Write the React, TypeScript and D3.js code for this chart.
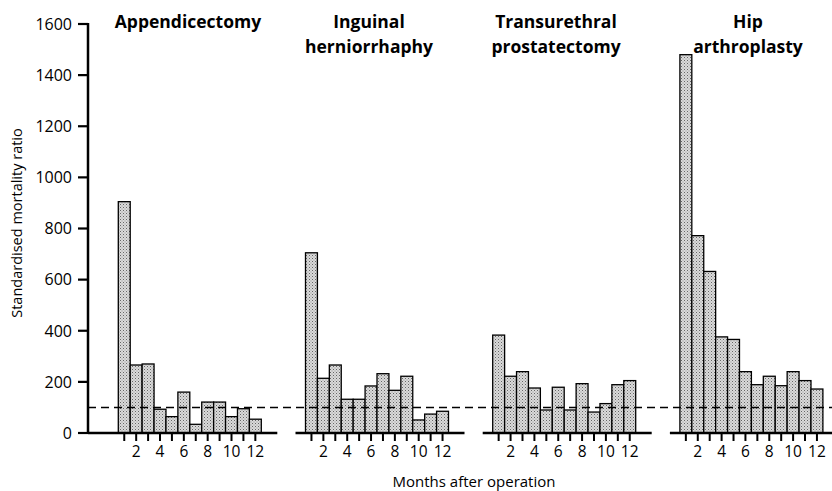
import React from "react";
import * as d3 from "d3";

const months = [1, 2, 3, 4, 5, 6, 7, 8, 9, 10, 11, 12];
const monthLabels = ["", "2", "", "4", "", "6", "", "8", "", "10", "", "12"];
const yTicks = [0, 200, 400, 600, 800, 1000, 1200, 1400, 1600];

const procedures = [
  ["Appendicectomy"],
  ["Inguinal", "herniorrhaphy"],
  ["Transurethral", "prostatectomy"],
  ["Hip", "arthroplasty"],
];
const appendicectomy = [905, 266, 270, 93, 64, 160, 34, 121, 121, 64, 95, 54];
const inguinal = [705, 214, 266, 132, 132, 184, 232, 167, 222, 51, 74, 85];
const transurethral = [383, 222, 240, 176, 90, 179, 90, 193, 82, 115, 189, 205];
const hip = [1480, 772, 632, 376, 366, 240, 189, 222, 185, 240, 205, 172];
const series = [appendicectomy, inguinal, transurethral, hip];
const reference = 100;

const titleX = [188, 369, 556, 748];

export default function App() {
  const W = 832, H = 491;
  const y = d3.scaleLinear().domain([0, 1600]).range([433, 24]);
  const axisX = 88;
  const panelStart = (i: number) => 118.3 + i * 187.2;
  const barsW = 143;
  const font = "'Open Sans', Lato, sans-serif";

  return (
    <svg width={W} height={H} style={{ position: "absolute", left: 0, top: 0 }}>
      <defs>
        <pattern id="stip" width="3" height="3" patternUnits="userSpaceOnUse">
          <rect width="3" height="3" fill="#dadada" />
          <rect x="0" y="0" width="1" height="1" fill="#666" />
          <rect x="1.5" y="1.5" width="1" height="1" fill="#929292" />
        </pattern>
      </defs>
      <rect width={W} height={H} fill="#fff" />
      {/* y axis */}
      <line x1={axisX} x2={axisX} y1={y(0)} y2={y(1600) - 1} stroke="#000" strokeWidth={2.5} />
      {yTicks.map((t) => (
        <g key={t}>
          <line x1={axisX - 10} x2={axisX} y1={y(t)} y2={y(t)} stroke="#000" strokeWidth={2.2} />
          <text x={72} y={y(t)} dy="0.36em" textAnchor="end" fontFamily={font} fontSize={16} fill="#000">
            {t}
          </text>
        </g>
      ))}
      <text
        transform={`translate(22,${223}) rotate(-90)`}
        textAnchor="middle"
        fontFamily={font}
        fontSize={14.5}
        fill="#000"
      >
        Standardised mortality ratio
      </text>
      {series.map((vals, i) => {
        const x0 = panelStart(i);
        const x = d3.scaleBand<number>().domain(months).range([x0, x0 + barsW]).padding(0);
        const baseStart = i === 0 ? axisX : x0 - 10;
        const baseEnd = Math.min(x0 + barsW + 16, W);
        return (
          <g key={i}>
            {vals.map((v, j) => (
              <rect
                key={j}
                x={x(months[j])!}
                y={y(v)}
                width={x.bandwidth()}
                height={y(0) - y(v)}
                fill="url(#stip)"
                stroke="#000"
                strokeWidth={1.3}
              />
            ))}
            <line x1={baseStart} x2={baseEnd} y1={y(0)} y2={y(0)} stroke="#000" strokeWidth={2.5} />
            {months.map((m, j) => (
              <g key={m}>
                <line
                  x1={x(m)! + x.bandwidth() / 2}
                  x2={x(m)! + x.bandwidth() / 2}
                  y1={y(0)}
                  y2={y(0) + 8}
                  stroke="#000"
                  strokeWidth={2}
                />
                {monthLabels[j] && (
                  <text
                    x={x(m)! + x.bandwidth() / 2}
                    y={457}
                    textAnchor="middle"
                    fontFamily={font}
                    fontSize={15.5}
                    fill="#000"
                  >
                    {monthLabels[j]}
                  </text>
                )}
              </g>
            ))}
            {procedures[i].map((line, k) => (
              <text
                key={k}
                x={titleX[i]}
                y={28 + k * 25}
                textAnchor="middle"
                fontFamily={font}
                fontWeight="bold"
                fontSize={17.5}
                fill="#000"
              >
                {line}
              </text>
            ))}
          </g>
        );
      })}
      <line
        x1={axisX}
        x2={W}
        y1={y(reference)}
        y2={y(reference)}
        stroke="#000"
        strokeWidth={1.6}
        strokeDasharray="8,5"
      />
      <text x={474} y={487} textAnchor="middle" fontFamily={font} fontSize={15} fill="#000">
        Months after operation
      </text>
    </svg>
  );
}
